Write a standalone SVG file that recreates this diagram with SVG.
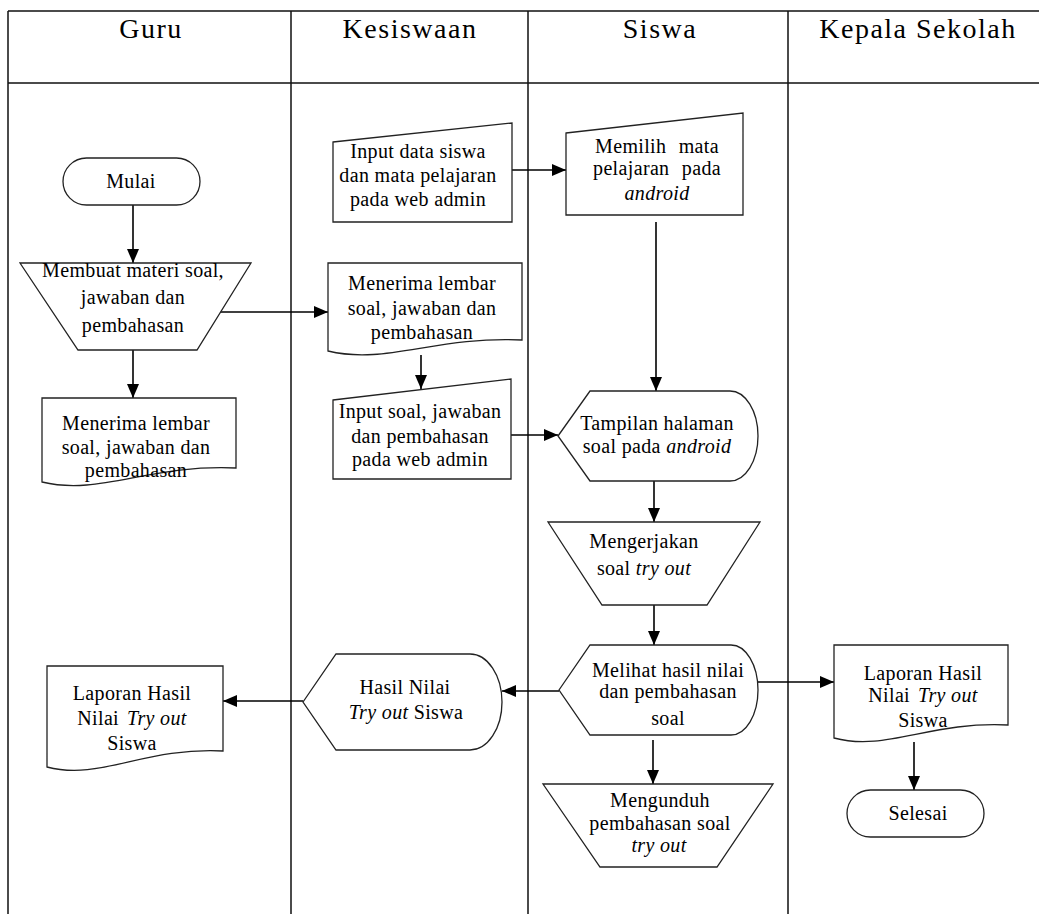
<svg xmlns="http://www.w3.org/2000/svg" width="1039" height="914" viewBox="0 0 1039 914">
<style>
.lane{stroke:#111;stroke-width:1.5;fill:none}
.shape{fill:#fff;stroke:#222;stroke-width:1.3}
.conn{stroke:#000;stroke-width:1.6;fill:none;marker-end:url(#arr)}
.hd{font-family:"Liberation Serif","Times New Roman",serif;font-size:28px;letter-spacing:1.5px;text-anchor:middle;fill:#000}
.t{font-family:"Liberation Serif","Times New Roman",serif;font-size:20px;letter-spacing:0.35px;text-anchor:middle;fill:#000}
.i{font-style:italic}
</style>
<defs>
<marker id="arr" markerUnits="userSpaceOnUse" markerWidth="14" markerHeight="12" refX="14" refY="6" orient="auto">
<path d="M0,0 L14,6 L0,12 Z" fill="#000"/>
</marker>
</defs>
<rect x="0" y="0" width="1039" height="914" fill="#fff"/>
<g id="lanes">
<path class="lane" d="M8,11 H1039 M8,83 H1039 M8,11 V914 M291,11 V914 M528,11 V914 M788,11 V914"/>
<text class="hd" x="151" y="38">Guru</text>
<text class="hd" x="410" y="38">Kesiswaan</text>
<text class="hd" x="660" y="38">Siswa</text>
<text class="hd" x="918" y="38">Kepala Sekolah</text>
</g>
<g id="connectors">
<path class="conn" d="M133,205 V263"/>
<path class="conn" d="M133,350 V398"/>
<path class="conn" d="M218,312 H328"/>
<path class="conn" d="M421,355 V389"/>
<path class="conn" d="M512,170 H566"/>
<path class="conn" d="M656,222 V391"/>
<path class="conn" d="M511,435 H558"/>
<path class="conn" d="M654,481 V522"/>
<path class="conn" d="M654,605 V645"/>
<path class="conn" d="M559,691 H502"/>
<path class="conn" d="M303,701 H223"/>
<path class="conn" d="M757,682 H834"/>
<path class="conn" d="M653,740 V784"/>
<path class="conn" d="M914,742 V790"/>
</g>
<g id="mulai">
<rect class="shape" x="63" y="158" width="137" height="47" rx="23.5"/>
<text class="t" x="131" y="188">Mulai</text>
</g>
<g id="membuat">
<polygon class="shape" points="20,263 251,263 197,350 78,350"/>
<text class="t" x="133" y="277">Membuat materi soal,</text>
<text class="t" x="133" y="304">jawaban dan</text>
<text class="t" x="133" y="332">pembahasan</text>
</g>
<g id="menerima-guru">
<path class="shape" d="M42,398 H236 V468 C149,464 100,496 42,482 Z"/>
<text class="t" x="136" y="430">Menerima lembar</text>
<text class="t" x="136" y="454">soal, jawaban dan</text>
<text class="t" x="136" y="477">pembahasan</text>
</g>
<g id="laporan-guru">
<path class="shape" d="M47,666 H223 V751 C144,747 100,781 47,767 Z"/>
<text class="t" x="132" y="700">Laporan Hasil</text>
<text class="t" x="132" y="725">Nilai<tspan class="i" dx="8">Try out</tspan></text>
<text class="t" x="132" y="750">Siswa</text>
</g>
<g id="input-data">
<polygon class="shape" points="333,142 512,123 512,222 333,222"/>
<text class="t" x="418" y="158">Input data siswa</text>
<text class="t" x="418" y="182">dan mata pelajaran</text>
<text class="t" x="418" y="206">pada web admin</text>
</g>
<g id="menerima-kesiswaan">
<path class="shape" d="M328,263 H522 V340 C435,336 386,365 328,351 Z"/>
<text class="t" x="422" y="290">Menerima lembar</text>
<text class="t" x="422" y="315">soal, jawaban dan</text>
<text class="t" x="422" y="339">pembahasan</text>
</g>
<g id="input-soal">
<polygon class="shape" points="333,400 511,379 511,479 333,479"/>
<text class="t" x="420" y="418">Input soal, jawaban</text>
<text class="t" x="420" y="443">dan pembahasan</text>
<text class="t" x="420" y="466">pada web admin</text>
</g>
<g id="hasil-nilai">
<path class="shape" d="M303,702 L336,654 H470 A32,48 0 0 1 470,750 H336 Z"/>
<text class="t" x="405" y="694">Hasil Nilai</text>
<text class="t" x="406" y="719"><tspan class="i">Try out</tspan> Siswa</text>
</g>
<g id="memilih">
<polygon class="shape" points="566,133 743,113 743,215 566,215"/>
<text class="t" x="657" y="153" word-spacing="7">Memilih mata</text>
<text class="t" x="657" y="175" word-spacing="7">pelajaran pada</text>
<text class="t i" x="657" y="200">android</text>
</g>
<g id="tampilan">
<path class="shape" d="M558,436 L590,391 H730 A28,45 0 0 1 730,481 H590 Z"/>
<text class="t" x="657" y="430">Tampilan halaman</text>
<text class="t" x="657" y="453">soal pada <tspan class="i">android</tspan></text>
</g>
<g id="mengerjakan">
<polygon class="shape" points="548,522 760,522 707,605 602,605"/>
<text class="t" x="644" y="548">Mengerjakan</text>
<text class="t" x="644" y="575">soal <tspan class="i">try out</tspan></text>
</g>
<g id="melihat">
<path class="shape" d="M559,690 L590,645 H731 A27,45 0 0 1 731,735 H590 Z"/>
<text class="t" x="668" y="677">Melihat hasil nilai</text>
<text class="t" x="668" y="698">dan pembahasan</text>
<text class="t" x="668" y="725">soal</text>
</g>
<g id="mengunduh">
<polygon class="shape" points="543,784 773,784 717,867 600,867"/>
<text class="t" x="660" y="807">Mengunduh</text>
<text class="t" x="660" y="830">pembahasan soal</text>
<text class="t i" x="659" y="852">try out</text>
</g>
<g id="laporan-kepala">
<path class="shape" d="M834,645 H1008 V725 C930,721 886,752 834,738 Z"/>
<text class="t" x="923" y="680">Laporan Hasil</text>
<text class="t" x="923" y="702">Nilai<tspan class="i" dx="8">Try out</tspan></text>
<text class="t" x="923" y="727">Siswa</text>
</g>
<g id="selesai">
<rect class="shape" x="847" y="790" width="137" height="47" rx="23.5"/>
<text class="t" x="918" y="820">Selesai</text>
</g>
</svg>
